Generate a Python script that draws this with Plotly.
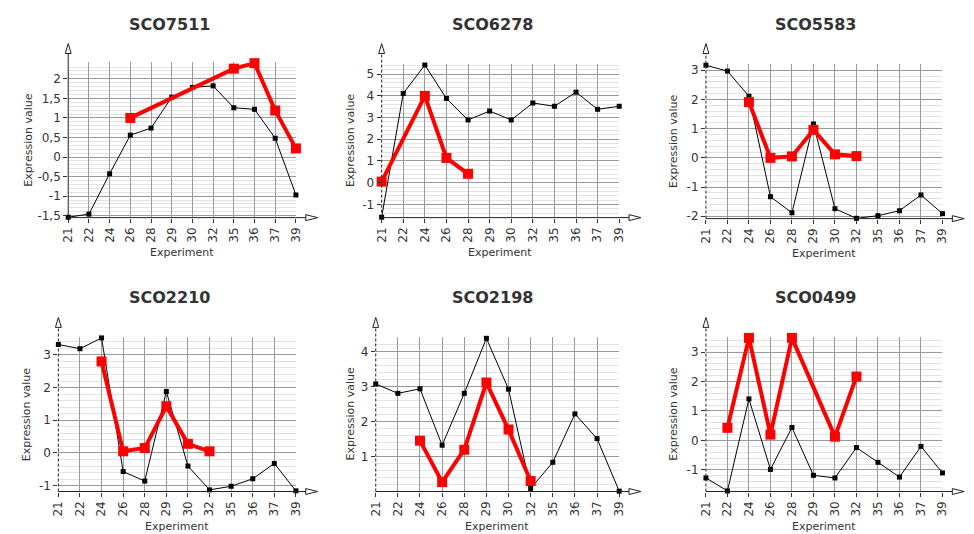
import plotly.graph_objects as go

W, H = 974, 534

experiments = ["21", "22", "24", "26", "28", "29", "30", "32", "35", "36", "37", "39"]
genes = ["SCO7511", "SCO6278", "SCO5583", "SCO2210", "SCO2198", "SCO0499"]

# black series: all experiments ; red series: selected experiments (None = missing)
sco7511_all = [-1.54, -1.46, -0.43, 0.56, 0.74, 1.53, 1.78, 1.82, 1.26, 1.22, 0.48, -0.97]
sco7511_sel = [None, None, None, 1.00, None, None, None, None, 2.26, 2.40, 1.19, 0.22]

sco6278_all = [-1.59, 4.11, 5.42, 3.88, 2.89, 3.30, 2.89, 3.67, 3.52, 4.17, 3.38, 3.52]
sco6278_sel = [0.05, None, 4.00, 1.14, 0.41, None, None, None, None, None, None, None]

sco5583_all = [3.17, 2.97, 2.11, -1.33, -1.88, 1.16, -1.74, -2.07, -1.98, -1.81, -1.27, -1.91]
sco5583_sel = [None, None, 1.91, 0.00, 0.05, 0.96, 0.12, 0.06, None, None, None, None]

sco2210_all = [3.32, 3.19, 3.52, -0.57, -0.86, 1.88, -0.40, -1.13, -1.02, -0.79, -0.32, -1.16]
sco2210_sel = [None, None, 2.80, 0.05, 0.15, 1.43, 0.28, 0.05, None, None, None, None]

sco2198_all = [3.08, 2.81, 2.94, 1.32, 2.81, 4.39, 2.93, 0.08, 0.83, 2.22, 1.51, 0.00]
sco2198_sel = [None, None, 1.45, 0.26, 1.19, 3.12, 1.77, 0.29, None, None, None, None]

sco0499_all = [-1.27, -1.71, 1.41, -0.98, 0.44, -1.18, -1.27, -0.24, -0.74, -1.24, -0.20, -1.10]
sco0499_sel = [None, 0.43, 3.48, 0.20, 3.48, None, 0.13, 2.17, None, None, None, None]

all_series = [sco7511_all, sco6278_all, sco5583_all, sco2210_all, sco2198_all, sco0499_all]
sel_series = [sco7511_sel, sco6278_sel, sco5583_sel, sco2210_sel, sco2198_sel, sco0499_sel]

ytick_vals = [
    [-1.5, -1, -0.5, 0, 0.5, 1, 1.5, 2],
    [-1, 0, 1, 2, 3, 4, 5],
    [-2, -1, 0, 1, 2, 3],
    [-1, 0, 1, 2, 3],
    [1, 2, 3, 4],
    [-1, 0, 1, 2, 3],
]
ytick_text = [
    ["-1,5", "-1", "-0,5", "0", "0,5", "1", "1,5", "2"],
    ["-1", "0", "1", "2", "3", "4", "5"],
    ["-2", "-1", "0", "1", "2", "3"],
    ["-1", "0", "1", "2", "3"],
    ["1", "2", "3", "4"],
    ["-1", "0", "1", "2", "3"],
]
y_ranges = [[-1.55, 2.42], [-1.61, 5.45], [-2.08, 3.2], [-1.18, 3.54], [-0.01, 4.42], [-1.73, 3.50]]
minor_step = [0.1, 0.2, 0.2, 0.2, 0.2, 0.2]

# plot areas in pixels: left, right, top, bottom
boxes = [
    (54, 285, 54, 211),
    (372, 613, 56, 211),
    (701, 941, 56, 212),
    (44, 285, 332, 488),
    (366, 613, 332, 488),
    (701, 941, 332, 488),
]
arrow_tip = [35, 35, 35, 312, 312, 312]
title_x = [157, 484, 812, 157, 484, 812]
title_y = [16, 16, 16, 292, 292, 292]
ytitle_x = [13, 340, 668, 12, 340, 668]
dashed_axis = [False, True, True, True, True, True]

TXT = "#333333"
FONT = "DejaVu Sans"


def fx(p):
    return p / W


def fy(p):
    return 1 - p / H


fig = go.Figure()
shapes = []
annotations = []

for i in range(6):
    l, r, t, b = boxes[i]
    xa = "x" if i == 0 else f"x{i+1}"
    ya = "y" if i == 0 else f"y{i+1}"
    fig.add_trace(go.Scatter(
        x=experiments, y=all_series[i], mode="lines+markers",
        line=dict(color="black", width=1),
        marker=dict(symbol="square", size=5, color="black"),
        xaxis=xa, yaxis=ya, cliponaxis=False, showlegend=False))
    fig.add_trace(go.Scatter(
        x=experiments, y=sel_series[i], mode="lines+markers", connectgaps=True,
        line=dict(color="#ff0000", width=4),
        marker=dict(symbol="square", size=10, color="#ff0000"),
        xaxis=xa, yaxis=ya, cliponaxis=False, showlegend=False))

    key = "" if i == 0 else str(i + 1)
    fig.layout["xaxis" + key] = dict(
        domain=[fx(l), fx(r)], anchor=ya, type="category",
        categoryorder="array", categoryarray=experiments,
        range=[0, len(experiments) - 1],
        showgrid=True, gridcolor="#9a9a9a", gridwidth=1,
        zeroline=False, showline=False,
        ticks="outside", ticklen=4, tickcolor="#333333",
        tickangle=-90, tickfont=dict(family=FONT, size=12, color=TXT),
        fixedrange=True)
    fig.layout["yaxis" + key] = dict(
        domain=[fy(b), fy(t)], anchor=xa, range=y_ranges[i],
        tickmode="array", tickvals=ytick_vals[i], ticktext=ytick_text[i],
        showgrid=True, gridcolor="#9a9a9a", gridwidth=1,
        minor=dict(tickmode="linear", tick0=0, dtick=minor_step[i],
                   showgrid=True, gridcolor="#e3e3e3", gridwidth=1, ticks=""),
        zeroline=False, showline=False,
        ticks="outside", ticklen=4, tickcolor="#333333",
        tickfont=dict(family=FONT, size=12, color=TXT),
        fixedrange=True)

    # y axis line with open arrow
    tip = arrow_tip[i]
    shapes.append(dict(type="line", xref="paper", yref="paper",
                       x0=fx(l), x1=fx(l), y0=fy(b), y1=fy(tip + 9),
                       line=dict(color="#222222", width=1,
                                 dash="3px,2px" if dashed_axis[i] else "solid"),
                       layer="above"))
    shapes.append(dict(type="path", xref="paper", yref="paper",
                       path=f"M {fx(l)},{fy(tip)} L {fx(l-3)},{fy(tip+10)} L {fx(l+3)},{fy(tip+10)} Z",
                       line=dict(color="#222222", width=1), fillcolor="white",
                       layer="above"))
    # x axis line with open arrow
    shapes.append(dict(type="line", xref="paper", yref="paper",
                       x0=fx(l), x1=fx(r + 12), y0=fy(b), y1=fy(b),
                       line=dict(color="#222222", width=1), layer="above"))
    shapes.append(dict(type="path", xref="paper", yref="paper",
                       path=f"M {fx(r+22)},{fy(b)} L {fx(r+10)},{fy(b-3)} L {fx(r+10)},{fy(b+3)} Z",
                       line=dict(color="#222222", width=1), fillcolor="white",
                       layer="above"))

    annotations.append(dict(text=f"<b>{genes[i]}</b>", xref="paper", yref="paper",
                            x=fx(title_x[i]), y=fy(title_y[i]), showarrow=False,
                            xanchor="center", yanchor="middle",
                            font=dict(family=FONT, size=16, color=TXT)))
    annotations.append(dict(text="Experiment", xref="paper", yref="paper",
                            x=fx((l + r) / 2), y=fy(b + 35), showarrow=False,
                            xanchor="center", yanchor="middle",
                            font=dict(family=FONT, size=11, color=TXT)))
    annotations.append(dict(text="Expression value", xref="paper", yref="paper",
                            x=fx(ytitle_x[i]), y=fy((t + b) / 2), showarrow=False,
                            textangle=-90, xanchor="center", yanchor="middle",
                            font=dict(family=FONT, size=11, color=TXT)))

fig.update_layout(
    width=W, height=H,
    margin=dict(l=0, r=0, t=0, b=0),
    paper_bgcolor="white", plot_bgcolor="white",
    shapes=shapes, annotations=annotations,
    font=dict(family=FONT, color=TXT),
)

fig.write_html("out.html")
